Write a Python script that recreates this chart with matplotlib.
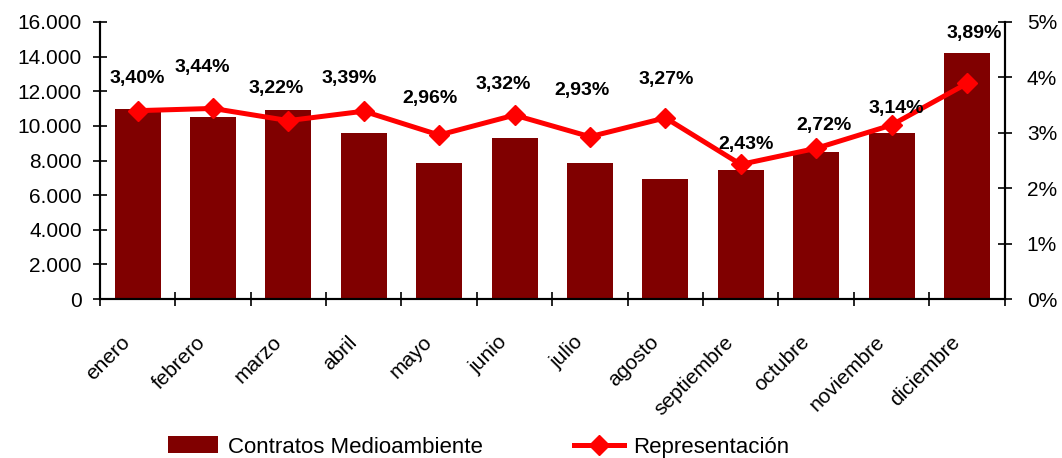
import matplotlib.pyplot as plt
import matplotlib.transforms as mtransforms
from matplotlib.ticker import FuncFormatter

plt.rcParams['font.family'] = ['Liberation Sans', 'DejaVu Sans']

meses = ['enero', 'febrero', 'marzo', 'abril', 'mayo', 'junio', 'julio',
         'agosto', 'septiembre', 'octubre', 'noviembre', 'diciembre']
contratos = [11000, 10500, 10900, 9600, 7850, 9300, 7850, 6950, 7450, 8500, 9600, 14200]
representacion = [3.40, 3.44, 3.22, 3.39, 2.96, 3.32, 2.93, 3.27, 2.43, 2.72, 3.14, 3.89]

# where each percentage label sits relative to its marker (pixels), as in the original
label_dx = [0, -11, -12, -15, -9, -11, -8, 1, 5, 8, 5, 7]
label_dy = [32, 41, 32, 33, 37, 31, 46, 38, 20, 23, 17, 50]

fig = plt.figure(figsize=(10.62, 4.58), dpi=100)
ax = fig.add_axes([0.094, 0.347, 0.852, 0.605])
ax2 = ax.twinx()

x = list(range(len(meses)))
bars = ax.bar(x, contratos, width=0.61, color='#800000', label='Contratos Medioambiente', zorder=2)
line, = ax2.plot(x, representacion, color='#ff0000', lw=3.6, marker='D', markersize=10,
                 label='Representación', zorder=3)

ax.set_xlim(-0.5, len(meses) - 0.5)
ax.set_ylim(0, 16000)
ax.set_yticks(range(0, 16001, 2000))
ax.yaxis.set_major_formatter(FuncFormatter(lambda v, p: f'{int(v):,}'.replace(',', '.')))
ax2.set_ylim(0, 5)
ax2.set_yticks(range(0, 6))
ax2.yaxis.set_major_formatter(FuncFormatter(lambda v, p: f'{int(v)}%'))

# ticks between categories, month names under the bars
ax.set_xticks([i - 0.5 for i in range(len(meses) + 1)])
ax.set_xticklabels([])
ax.set_xticks(x, minor=True)
ax.set_xticklabels(meses, minor=True, rotation=45, ha='right', va='center',
                   rotation_mode='anchor', fontsize=15)
ax.tick_params(axis='x', which='minor', length=0, pad=0)
shift = mtransforms.ScaledTranslation(-10 / 100, -40 / 100, fig.dpi_scale_trans)
for lab in ax.get_xticklabels(minor=True):
    lab.set_transform(lab.get_transform() + shift)
ax.tick_params(axis='x', which='major', direction='inout', length=10, width=1.2)
ax.tick_params(axis='y', direction='inout', length=10, width=1.2, labelsize=15, pad=8)
ax2.tick_params(axis='y', direction='inout', length=10, width=1.2, labelsize=15, pad=11)

for a in (ax, ax2):
    a.spines['top'].set_visible(False)
    for s in ('left', 'right', 'bottom'):
        a.spines[s].set_linewidth(1.5)

for xi, v, dx, dy in zip(x, representacion, label_dx, label_dy):
    ax2.annotate(f'{v:.2f}%'.replace('.', ','), (xi, v), xytext=(dx, dy),
                 textcoords='offset pixels', ha='center', va='center',
                 fontsize=14, fontweight='bold')

fig.legend(handles=[bars, line], loc='center left', bbox_to_anchor=(0.139, 0.024), ncol=2,
           frameon=False, fontsize=16, columnspacing=4.1, handlelength=2.25,
           handleheight=0.8, handletextpad=0.45)

fig.savefig('out.png', dpi=100)
